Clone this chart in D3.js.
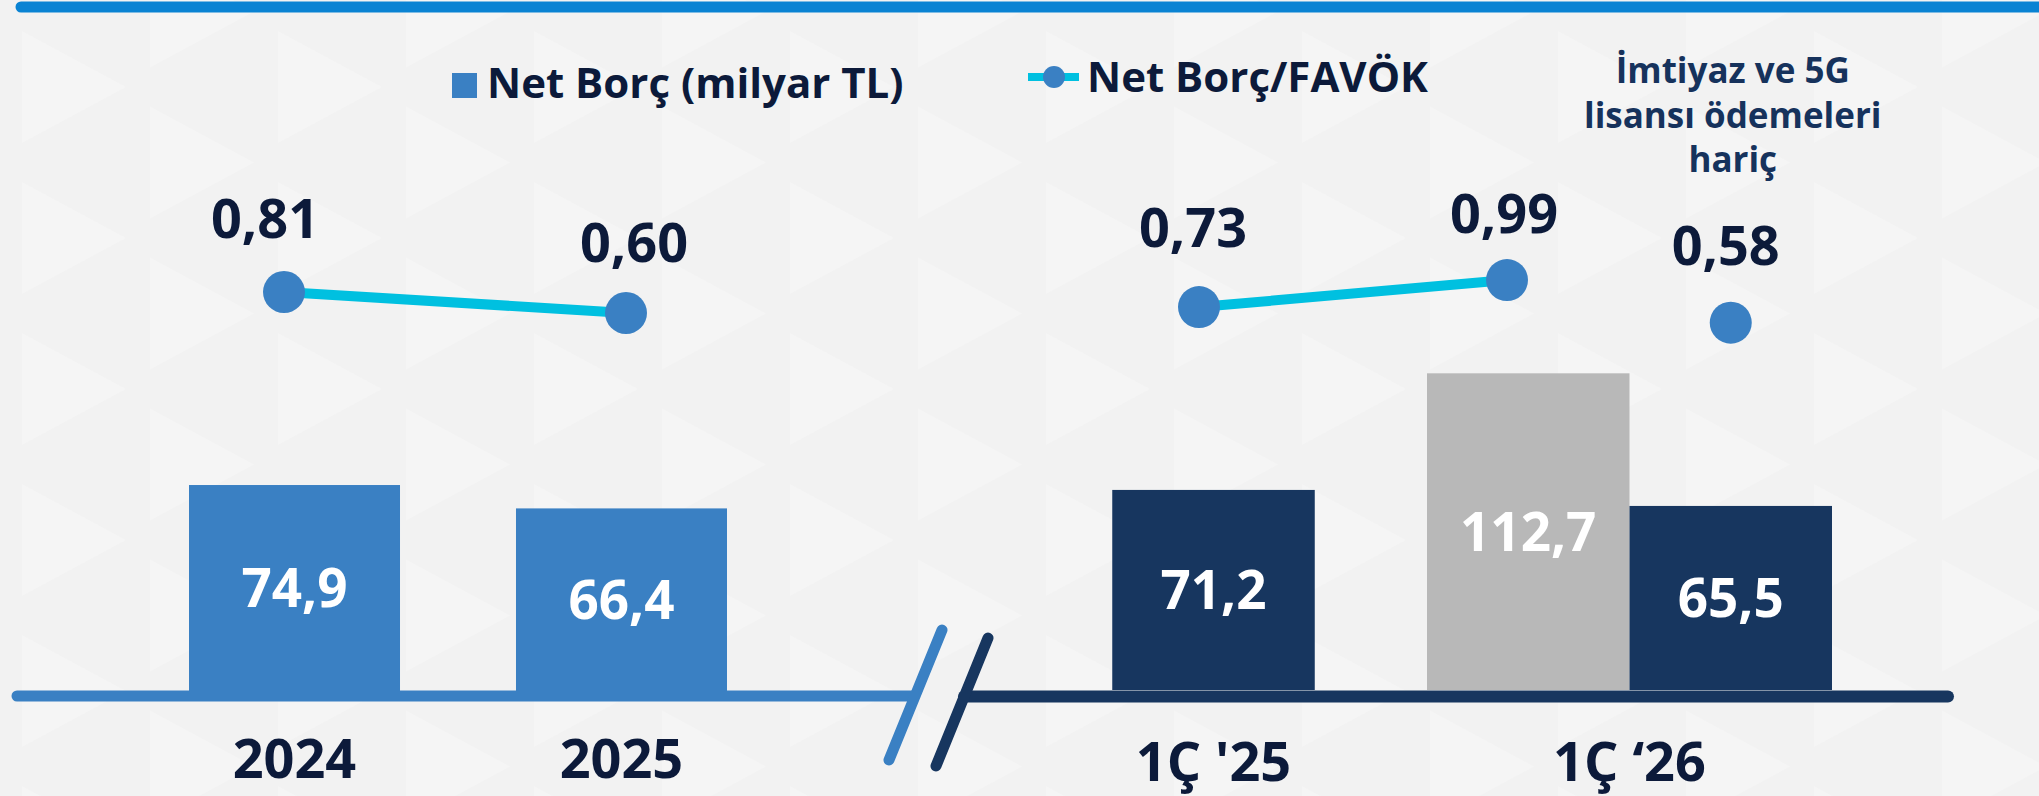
<!DOCTYPE html>
<html>
<head>
<meta charset="utf-8">
<script src="https://cdn.jsdelivr.net/npm/d3@7"></script>
<style>
  html, body { margin: 0; padding: 0; background: #f3f3f3; overflow: hidden; }
  svg { display: block; font-family: 'Open Sans', 'Noto Sans', sans-serif; }
</style>
</head>
<body>
<svg id="chart" width="2039" height="796"></svg>
<script>
// Yıllık dönemler
const annualPeriods = ['2024', '2025'];
const annualNetDebt = [74.9, 66.4];      // Net Borç (milyar TL)
const annualRatio = [0.81, 0.60];        // Net Borç/FAVÖK

// Çeyreklik dönemler
const quarterPeriods = ["1Ç '25", "1Ç ‘26"];
const quarterNetDebt = [71.2, 112.7];
const quarterRatio = [0.73, 0.99];

// 1Ç ‘26: imtiyaz ve 5G lisansı ödemeleri hariç
const exLicencePeriod = "1Ç ‘26";
const exLicenceNetDebt = 65.5;
const exLicenceRatio = 0.58;

const legendLabels = ['Net Borç (milyar TL)', 'Net Borç/FAVÖK'];
const noteLines = ['İmtiyaz ve 5G', 'lisansı ödemeleri', 'hariç'];

const W = 2039, H = 796;
const C = {
  bg: '#f2f2f2', bgTri: '#f5f5f5',
  top: '#0a83d3',
  blue: '#3a80c3', navy: '#17365f', gray: '#b8b8b8',
  line: '#00c0e0', text: '#0c1a3a', note: '#16325c'
};

const tr = d3.formatLocale({ decimal: ',', thousands: '.', grouping: [3], currency: ['', ' TL'] });
const fmtDebt = tr.format('.1f');
const fmtRatio = tr.format('.2f');

const svg = d3.select('#chart');

// --- arka plan deseni: sütunlar içinde sağa bakan üçgenler ---
const bg = svg.append('g');
bg.append('rect').attr('width', W).attr('height', H).attr('fill', C.bg);
const colW = 128, period = 151;
const tris = [];
for (let i = 0, x = 22; x < W; i++, x += colW) {
  const phase = (i % 2) * period / 2;
  for (let yc = 87 + phase - period * 2; yc < H + period; yc += period) {
    tris.push([[x, yc - 56], [x + 104, yc], [x, yc + 56]]);
  }
}
bg.selectAll('path').data(tris).join('path')
  .attr('d', d => 'M' + d.join('L') + 'Z')
  .attr('fill', C.bgTri);

// üst şerit
svg.append('line')
  .attr('x1', 21).attr('x2', W + 20).attr('y1', 7).attr('y2', 7)
  .attr('stroke', C.top).attr('stroke-width', 11).attr('stroke-linecap', 'round');

// --- ölçekler ---
const xA = d3.scaleBand().domain(annualPeriods).range([189, 727]).paddingInner(0.3547);
const yA = d3.scaleLinear().domain([0, 100]).range([691, 416]);
const rA = d3.scaleLinear().domain([0, 1]).range([373, 273]);
const xAdot = d3.scalePoint().domain(annualPeriods).range([284, 626]);

const xQ = d3.scaleBand().domain(quarterPeriods).range([1011, 1832]).paddingInner(0.0264);
const xQsub = d3.scaleBand().domain(['reported', 'exLicence']).range([0, xQ.bandwidth()]);
const yQ = d3.scaleLinear().domain([0, 100]).range([690, 409]);
const rQ = d3.scaleLinear().domain([0, 1]).range([383, 279]);
const xQdot = d3.scalePoint().domain(quarterPeriods).range([1199, 1507]);

// --- sütunlar ---
const annualBars = annualPeriods.map((p, i) => ({
  x: xA(p), w: xA.bandwidth(), y0: yA(0), y: yA(annualNetDebt[i]), v: annualNetDebt[i], fill: C.blue
}));
const sw = xQsub.bandwidth();
const quarterBars = [
  { x: xQ(quarterPeriods[0]) + (xQ.bandwidth() - sw) / 2, w: sw, y0: yQ(0),
    y: yQ(quarterNetDebt[0]), v: quarterNetDebt[0], fill: C.navy },
  { x: xQ(quarterPeriods[1]) + xQsub('reported'), w: sw, y0: yQ(0),
    y: yQ(quarterNetDebt[1]), v: quarterNetDebt[1], fill: C.gray },
  { x: xQ(exLicencePeriod) + xQsub('exLicence'), w: sw, y0: yQ(0),
    y: yQ(exLicenceNetDebt), v: exLicenceNetDebt, fill: C.navy }
];
const bars = annualBars.concat(quarterBars);

const gBars = svg.append('g');
gBars.selectAll('rect').data(bars).join('rect')
  .attr('x', d => d.x).attr('y', d => d.y)
  .attr('width', d => d.w).attr('height', d => d.y0 - d.y)
  .attr('fill', d => d.fill);
gBars.selectAll('text').data(bars).join('text')
  .attr('x', d => d.x + d.w / 2).attr('y', d => (d.y + d.y0) / 2)
  .attr('dy', '0.36em').attr('text-anchor', 'middle')
  .attr('fill', '#fff').attr('font-size', 53).attr('font-weight', 700)
  .text(d => fmtDebt(d.v));

// --- eksen çizgileri ve kırılma işareti ---
const gAxis = svg.append('g');
gAxis.append('line')
  .attr('x1', 17).attr('x2', 912).attr('y1', 696).attr('y2', 696)
  .attr('stroke', C.blue).attr('stroke-width', 11).attr('stroke-linecap', 'round');
gAxis.append('line')
  .attr('x1', 964).attr('x2', 1948).attr('y1', 696.5).attr('y2', 696.5)
  .attr('stroke', C.navy).attr('stroke-width', 12).attr('stroke-linecap', 'round');
gAxis.append('line')
  .attr('x1', 942).attr('y1', 630).attr('x2', 889).attr('y2', 760)
  .attr('stroke', C.blue).attr('stroke-width', 11).attr('stroke-linecap', 'round');
gAxis.append('line')
  .attr('x1', 988).attr('y1', 638).attr('x2', 936).attr('y2', 766)
  .attr('stroke', C.navy).attr('stroke-width', 11).attr('stroke-linecap', 'round');

// kategori etiketleri
const cats = annualPeriods.map(p => ({ x: xA(p) + xA.bandwidth() / 2, y: 778, t: p }))
  .concat(quarterPeriods.map(p => ({ x: xQ(p) + xQ.bandwidth() / 2, y: 781, t: p })));
svg.append('g').selectAll('text').data(cats).join('text')
  .attr('x', d => d.x).attr('y', d => d.y).attr('text-anchor', 'middle')
  .attr('fill', C.text).attr('font-size', 54).attr('font-weight', 700)
  .text(d => d.t);

// --- Net Borç/FAVÖK çizgisi ---
const ptsA = annualPeriods.map((p, i) => ({ x: xAdot(p), y: rA(annualRatio[i]), v: annualRatio[i] }));
const ptsQ = quarterPeriods.map((p, i) => ({ x: xQdot(p), y: rQ(quarterRatio[i]), v: quarterRatio[i] }));
const ptEx = { x: xQ(exLicencePeriod) + xQsub('exLicence') + sw / 2, y: rQ(exLicenceRatio), v: exLicenceRatio };

const lineGen = d3.line().x(d => d.x).y(d => d.y);
const gLine = svg.append('g');
gLine.selectAll('path').data([ptsA, ptsQ]).join('path')
  .attr('d', lineGen).attr('fill', 'none')
  .attr('stroke', C.line).attr('stroke-width', 10);

const allPts = ptsA.concat(ptsQ, [ptEx]);
gLine.selectAll('circle').data(allPts).join('circle')
  .attr('cx', d => d.x).attr('cy', d => d.y).attr('r', 21).attr('fill', C.blue);

// değer etiketlerinin noktaya göre kaydırılması
const ratioLabelNudge = [[-19, -54], [8, -51], [-6, -60], [-3, -47], [-5, -58]];
gLine.selectAll('text').data(allPts).join('text')
  .attr('x', (d, i) => d.x + ratioLabelNudge[i][0])
  .attr('y', (d, i) => d.y + ratioLabelNudge[i][1])
  .attr('text-anchor', 'middle')
  .attr('fill', C.text).attr('font-size', 54).attr('font-weight', 700)
  .text(d => fmtRatio(d.v));

// --- lejant ---
const gLeg = svg.append('g');
gLeg.append('rect').attr('x', 452).attr('y', 73).attr('width', 25).attr('height', 25).attr('fill', C.blue);
gLeg.append('text').attr('x', 487).attr('y', 98)
  .attr('fill', C.text).attr('font-size', 42).attr('font-weight', 700)
  .text(legendLabels[0]);
gLeg.append('line').attr('x1', 1028).attr('x2', 1079).attr('y1', 77).attr('y2', 77)
  .attr('stroke', C.line).attr('stroke-width', 8);
gLeg.append('circle').attr('cx', 1054).attr('cy', 77).attr('r', 11).attr('fill', C.blue);
gLeg.append('text').attr('x', 1087).attr('y', 92)
  .attr('fill', C.text).attr('font-size', 42).attr('font-weight', 700)
  .text(legendLabels[1]);

// --- not ---
svg.append('g').selectAll('text').data(noteLines).join('text')
  .attr('x', ptEx.x + 2).attr('y', (d, i) => 83 + i * 44.5)
  .attr('text-anchor', 'middle')
  .attr('fill', C.note).attr('font-size', 35).attr('font-weight', 700)
  .text(d => d);
</script>
</body>
</html>
